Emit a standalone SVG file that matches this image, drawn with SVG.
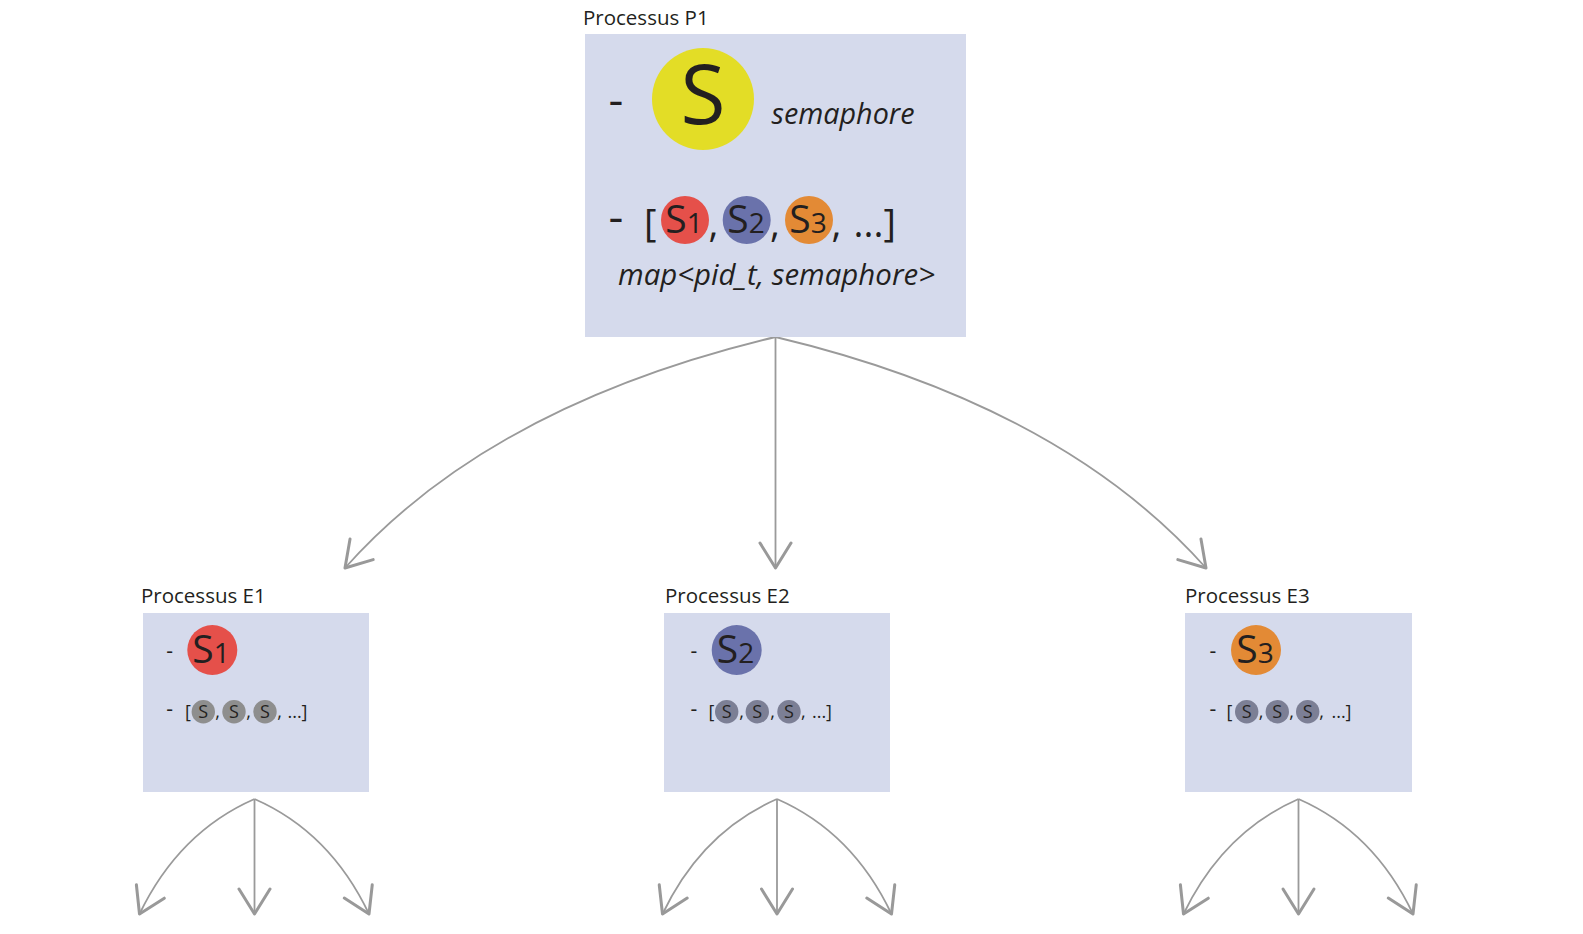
<svg xmlns="http://www.w3.org/2000/svg" width="1583" height="934" viewBox="0 0 1583 934">
<style>
.bg{fill:#ffffff}
.box{fill:#D5DAEC}
.t{font-family:"Open Sans","Liberation Sans",sans-serif;fill:#231F20;font-weight:500}
.it{font-style:italic}
.title{font-size:20.5px}
.mid{text-anchor:middle}
.end{text-anchor:end}
.conn{fill:none;stroke:#9a9a9a;stroke-width:1.8;marker-end:url(#ah)}
.red{fill:#E5504A}
.blue{fill:#6A72AB}
.orange{fill:#E38A35}
.yellow{fill:#E3DD26}
.g1{fill:#8E8E8E}
.g2{fill:#7C7F95}
.big{font-size:39px}
.sub{font-size:28px}
.sm{font-size:18px}
</style>
<defs>
<marker id="ah" markerUnits="userSpaceOnUse" orient="auto" viewBox="-30 -20 40 40" markerWidth="40" markerHeight="40" refX="0" refY="0" overflow="visible">
<path d="M-25,-15.5 L0,0 L-25,15.5" fill="none" stroke="#999" stroke-width="3" stroke-linecap="round" stroke-linejoin="round"/>
</marker>
</defs>
<rect class="bg" x="0" y="0" width="1583" height="934"/>

<g id="connectors">
<path class="conn" d="M775.5,337 Q490,405 345,568"/>
<path class="conn" d="M775.5,337 L775.5,568"/>
<path class="conn" d="M775.5,337 Q1061,405 1206,568"/>
<path class="conn" d="M254.5,799 Q179,832 139.5,914"/>
<path class="conn" d="M254.5,799 L254.5,914"/>
<path class="conn" d="M254.5,799 Q330,832 369,914"/>
<path class="conn" d="M777,799 Q701.5,832 662.5,914"/>
<path class="conn" d="M777,799 L777,914"/>
<path class="conn" d="M777,799 Q852.5,832 891.5,914"/>
<path class="conn" d="M1298.5,799 Q1223,832 1183.5,914"/>
<path class="conn" d="M1298.5,799 L1298.5,914"/>
<path class="conn" d="M1298.5,799 Q1374,832 1413,914"/>
</g>

<g id="P1">
<text class="t title" x="583" y="25">Processus P1</text>
<rect class="box" x="585" y="34" width="381" height="303"/>
<text class="t mid" x="616" y="116" font-size="46">-</text>
<circle class="yellow" cx="703" cy="99" r="51"/>
<text class="t mid" x="703" y="124" font-size="82">S</text>
<text class="t it" x="771.5" y="124" font-size="30" textLength="143" lengthAdjust="spacingAndGlyphs">semaphore</text>
<text class="t mid" x="616" y="233" font-size="46">-</text>
<text class="t" x="644" y="237" font-size="38">[</text>
<circle class="red" cx="685" cy="220" r="24"/>
<text class="t mid big" x="684" y="233">S<tspan class="sub">1</tspan></text>
<text class="t mid" x="713.5" y="237" font-size="38">,</text>
<circle class="blue" cx="746.7" cy="220" r="24"/>
<text class="t mid big" x="746" y="233">S<tspan class="sub">2</tspan></text>
<text class="t mid" x="775" y="237" font-size="38">,</text>
<circle class="orange" cx="809" cy="220" r="24"/>
<text class="t mid big" x="808" y="233">S<tspan class="sub">3</tspan></text>
<text class="t mid" x="836.5" y="237" font-size="38">,</text>
<text class="t end" x="896" y="237" font-size="38">...]</text>
<text class="t it" x="618" y="285" font-size="30" textLength="317" lengthAdjust="spacingAndGlyphs">map&lt;pid_t, semaphore&gt;</text>
</g>

<g id="E1">
<text class="t title" x="141" y="603">Processus E1</text>
<rect class="box" x="143" y="613" width="226" height="179"/>
<text class="t mid" x="169.7" y="657.5" font-size="21">-</text>
<circle class="red" cx="212.3" cy="650" r="25"/>
<text class="t mid big" x="211" y="663">S<tspan class="sub">1</tspan></text>
<text class="t mid" x="169.7" y="715.5" font-size="21">-</text>
<text class="t sm" x="185" y="718">[</text>
<circle class="g1" cx="203.3" cy="711.7" r="11.7"/>
<text class="t mid sm" x="203.3" y="718">S</text>
<text class="t mid sm" x="217.7" y="718">,</text>
<circle class="g1" cx="234" cy="711.7" r="11.7"/>
<text class="t mid sm" x="234" y="718">S</text>
<text class="t mid sm" x="248.5" y="718">,</text>
<circle class="g1" cx="265" cy="711.7" r="11.7"/>
<text class="t mid sm" x="265" y="718">S</text>
<text class="t mid sm" x="279.5" y="718">,</text>
<text class="t end sm" x="307.5" y="718">...]</text>
</g>

<g id="E2">
<text class="t title" x="665" y="603">Processus E2</text>
<rect class="box" x="664" y="613" width="226" height="179"/>
<text class="t mid" x="694" y="657.5" font-size="21">-</text>
<circle class="blue" cx="736.7" cy="650" r="25"/>
<text class="t mid big" x="735.5" y="663">S<tspan class="sub">2</tspan></text>
<text class="t mid" x="694" y="715.5" font-size="21">-</text>
<text class="t sm" x="708.5" y="718">[</text>
<circle class="g2" cx="726.7" cy="711.7" r="11.7"/>
<text class="t mid sm" x="726.7" y="718">S</text>
<text class="t mid sm" x="741.7" y="718">,</text>
<circle class="g2" cx="757.3" cy="711.7" r="11.7"/>
<text class="t mid sm" x="757.3" y="718">S</text>
<text class="t mid sm" x="772.7" y="718">,</text>
<circle class="g2" cx="789" cy="711.7" r="11.7"/>
<text class="t mid sm" x="789" y="718">S</text>
<text class="t mid sm" x="803.3" y="718">,</text>
<text class="t end sm" x="832" y="718">...]</text>
</g>

<g id="E3">
<text class="t title" x="1185" y="603">Processus E3</text>
<rect class="box" x="1185" y="613" width="227" height="179"/>
<text class="t mid" x="1213" y="657.5" font-size="21">-</text>
<circle class="orange" cx="1256" cy="650" r="25"/>
<text class="t mid big" x="1255" y="663">S<tspan class="sub">3</tspan></text>
<text class="t mid" x="1213" y="715.5" font-size="21">-</text>
<text class="t sm" x="1226.5" y="718">[</text>
<circle class="g2" cx="1246.7" cy="711.7" r="11.7"/>
<text class="t mid sm" x="1246.7" y="718">S</text>
<text class="t mid sm" x="1261" y="718">,</text>
<circle class="g2" cx="1277.3" cy="711.7" r="11.7"/>
<text class="t mid sm" x="1277.3" y="718">S</text>
<text class="t mid sm" x="1291.7" y="718">,</text>
<circle class="g2" cx="1307.7" cy="711.7" r="11.7"/>
<text class="t mid sm" x="1307.7" y="718">S</text>
<text class="t mid sm" x="1321.7" y="718">,</text>
<text class="t end sm" x="1351.5" y="718">...]</text>
</g>
</svg>
